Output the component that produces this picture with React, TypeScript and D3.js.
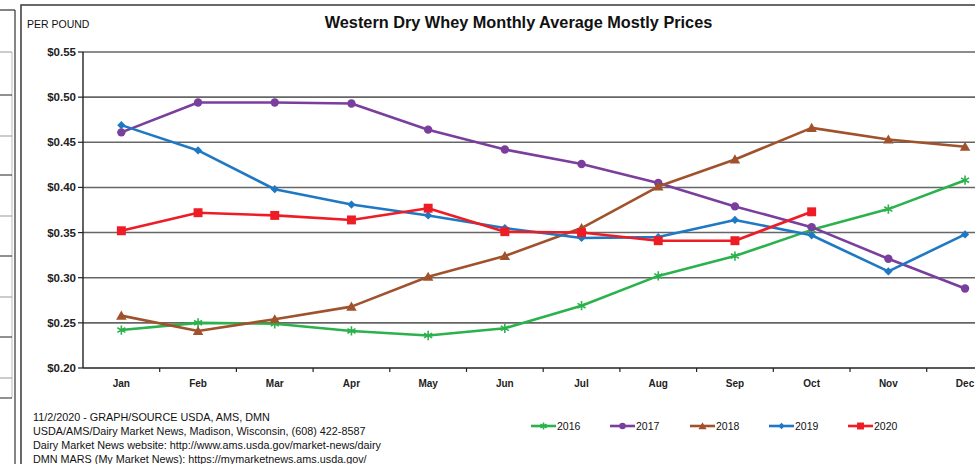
import * as d3 from "d3";

const months = ["Jan", "Feb", "Mar", "Apr", "May", "Jun", "Jul", "Aug", "Sep", "Oct", "Nov", "Dec"];
const yTicks = [0.2, 0.25, 0.3, 0.35, 0.4, 0.45, 0.5, 0.55];

const y2016 = [0.242, 0.25, 0.249, 0.241, 0.236, 0.244, 0.269, 0.302, 0.324, 0.353, 0.376, 0.408];
const y2017 = [0.461, 0.494, 0.494, 0.493, 0.464, 0.442, 0.426, 0.405, 0.379, 0.356, 0.321, 0.288];
const y2018 = [0.258, 0.241, 0.254, 0.268, 0.301, 0.324, 0.355, 0.401, 0.431, 0.466, 0.453, 0.445];
const y2019 = [0.469, 0.441, 0.398, 0.381, 0.369, 0.355, 0.344, 0.345, 0.364, 0.347, 0.307, 0.348];
const y2020 = [0.352, 0.372, 0.369, 0.364, 0.377, 0.351, 0.35, 0.341, 0.341, 0.373];

const footer = [
  "11/2/2020 - GRAPH/SOURCE USDA, AMS, DMN",
  "USDA/AMS/Dairy Market News, Madison, Wisconsin, (608) 422-8587",
  "Dairy Market News website: http://www.ams.usda.gov/market-news/dairy",
  "DMN MARS (My Market News): https://mymarketnews.ams.usda.gov/",
];

const series = [
  { name: "2016", values: y2016, color: "#2bb24c", marker: "star" },
  { name: "2017", values: y2017, color: "#7a3e9d", marker: "circle" },
  { name: "2018", values: y2018, color: "#a0522d", marker: "triangle" },
  { name: "2019", values: y2019, color: "#1f78c4", marker: "diamond" },
  { name: "2020", values: y2020, color: "#ee1c25", marker: "square" },
];

const font = "'Liberation Sans', Arial, sans-serif";

const Marker = ({ type, color, x, y, k = 1 }: { type: string; color: string; x: number; y: number; k?: number }) => {
  const t = `translate(${x},${y})`;
  if (type === "star") {
    const p = d3.symbol(d3.symbolAsterisk, 60 * k)();
    return <path d={p || ""} transform={t} fill="none" stroke={color} strokeWidth={1.6} />;
  }
  if (type === "circle") return <circle cx={x} cy={y} r={4.2 * Math.sqrt(k)} fill={color} />;
  if (type === "triangle") {
    const p = d3.symbol(d3.symbolTriangle, 48 * k)();
    return <path d={p || ""} transform={`translate(${x},${y + 1})`} fill={color} />;
  }
  if (type === "diamond") {
    const p = d3.symbol(d3.symbolSquare, 34 * k)();
    return <path d={p || ""} transform={`${t} rotate(45)`} fill={color} />;
  }
  const p = d3.symbol(d3.symbolSquare, 80 * k)();
  return <path d={p || ""} transform={t} fill={color} />;
};

export default function App() {
  const W = 975;
  const H = 464;
  const left = 83;
  const step = 76.7;

  const x = d3.scaleBand().domain(months).range([left, left + step * months.length]);
  const y = d3.scaleLinear().domain([0.2, 0.55]).range([368, 52]);
  const cx = (m: string) => (x(m) ?? 0) + x.bandwidth() / 2;

  const line = d3
    .line<number>()
    .x((_, i) => cx(months[i]))
    .y((d) => y(d));

  // remnants of the neighbouring chart on the left
  const sideRows = [52, 95, 136, 175, 216, 256, 297, 337, 378, 398];

  const legendX = [531, 610, 690, 769, 848];

  return (
    <svg
      width={W}
      height={H}
      style={{ position: "absolute", left: 0, top: 0, background: "#fff" }}
      fontFamily={font}
    >
      <rect width={W} height={H} fill="#fff" />
      {/* left neighbour box */}
      <line x1={0} x2={15} y1={10} y2={10} stroke="#333" strokeWidth={1.2} />
      <line x1={15} x2={15} y1={10} y2={H} stroke="#333" strokeWidth={1.2} />
      <line x1={12} x2={12} y1={52} y2={398} stroke="#bbb" strokeWidth={1} />
      {sideRows.map((r, i) => (
        <line key={r} x1={0} x2={12} y1={r} y2={r} stroke={i % 2 ? "#222" : "#999"} strokeWidth={1} />
      ))}

      {/* main frame */}
      <rect x={21} y={5} width={W + 20} height={H + 20} fill="#fff" stroke="#444" strokeWidth={1.6} />

      <text x={518.5} y={28} textAnchor="middle" fontSize={16.3} fontWeight="bold" fill="#111">
        Western Dry Whey Monthly Average Mostly Prices
      </text>
      <text x={27} y={28} fontSize={10.5} fill="#111">
        PER POUND
      </text>

      {/* gridlines */}
      {yTicks.map((t) => (
        <g key={t}>
          {t > 0.2 && (
            <line x1={left} x2={W} y1={y(t)} y2={y(t)} stroke="#666" strokeWidth={1.6} />
          )}
          <line x1={left - 5} x2={left} y1={y(t)} y2={y(t)} stroke="#222" strokeWidth={1.2} />
          <text x={76} y={y(t)} dy="0.35em" textAnchor="end" fontSize={11.5} fontWeight="bold" fill="#222">
            {d3.format("$.2f")(t)}
          </text>
        </g>
      ))}

      {/* axes */}
      <line x1={left} x2={left} y1={y(0.55)} y2={y(0.2)} stroke="#222" strokeWidth={1.4} />
      <line x1={left} x2={W} y1={y(0.2)} y2={y(0.2)} stroke="#222" strokeWidth={1.6} />
      {months.map((m, i) =>
        i > 0 ? (
          <line key={m} x1={x(m)} x2={x(m)} y1={y(0.2)} y2={y(0.2) + 4} stroke="#222" strokeWidth={1.2} />
        ) : null
      )}
      {months.map((m) => (
        <text key={m} x={cx(m)} y={387} textAnchor="middle" fontSize={10} fontWeight="bold" fill="#222">
          {m}
        </text>
      ))}

      {/* series */}
      {series.map((s) => (
        <g key={s.name}>
          <path d={line(s.values) || ""} fill="none" stroke={s.color} strokeWidth={2.6} strokeLinejoin="round" />
          {s.values.map((v, i) => (
            <Marker key={i} type={s.marker} color={s.color} x={cx(months[i])} y={y(v)} />
          ))}
        </g>
      ))}

      {/* footer */}
      {footer.map((f, i) => (
        <text key={i} x={33} y={421 + i * 14} fontSize={10.8} fill="#111">
          {f}
        </text>
      ))}

      {/* legend */}
      {series.map((s, i) => (
        <g key={s.name}>
          <line x1={legendX[i]} x2={legendX[i] + 25} y1={426} y2={426} stroke={s.color} strokeWidth={2.6} />
          <Marker type={s.marker} color={s.color} x={legendX[i] + 12.5} y={426} k={0.6} />
          <text x={legendX[i] + 26} y={430} fontSize={10.5} fill="#111">
            {s.name}
          </text>
        </g>
      ))}
    </svg>
  );
}
